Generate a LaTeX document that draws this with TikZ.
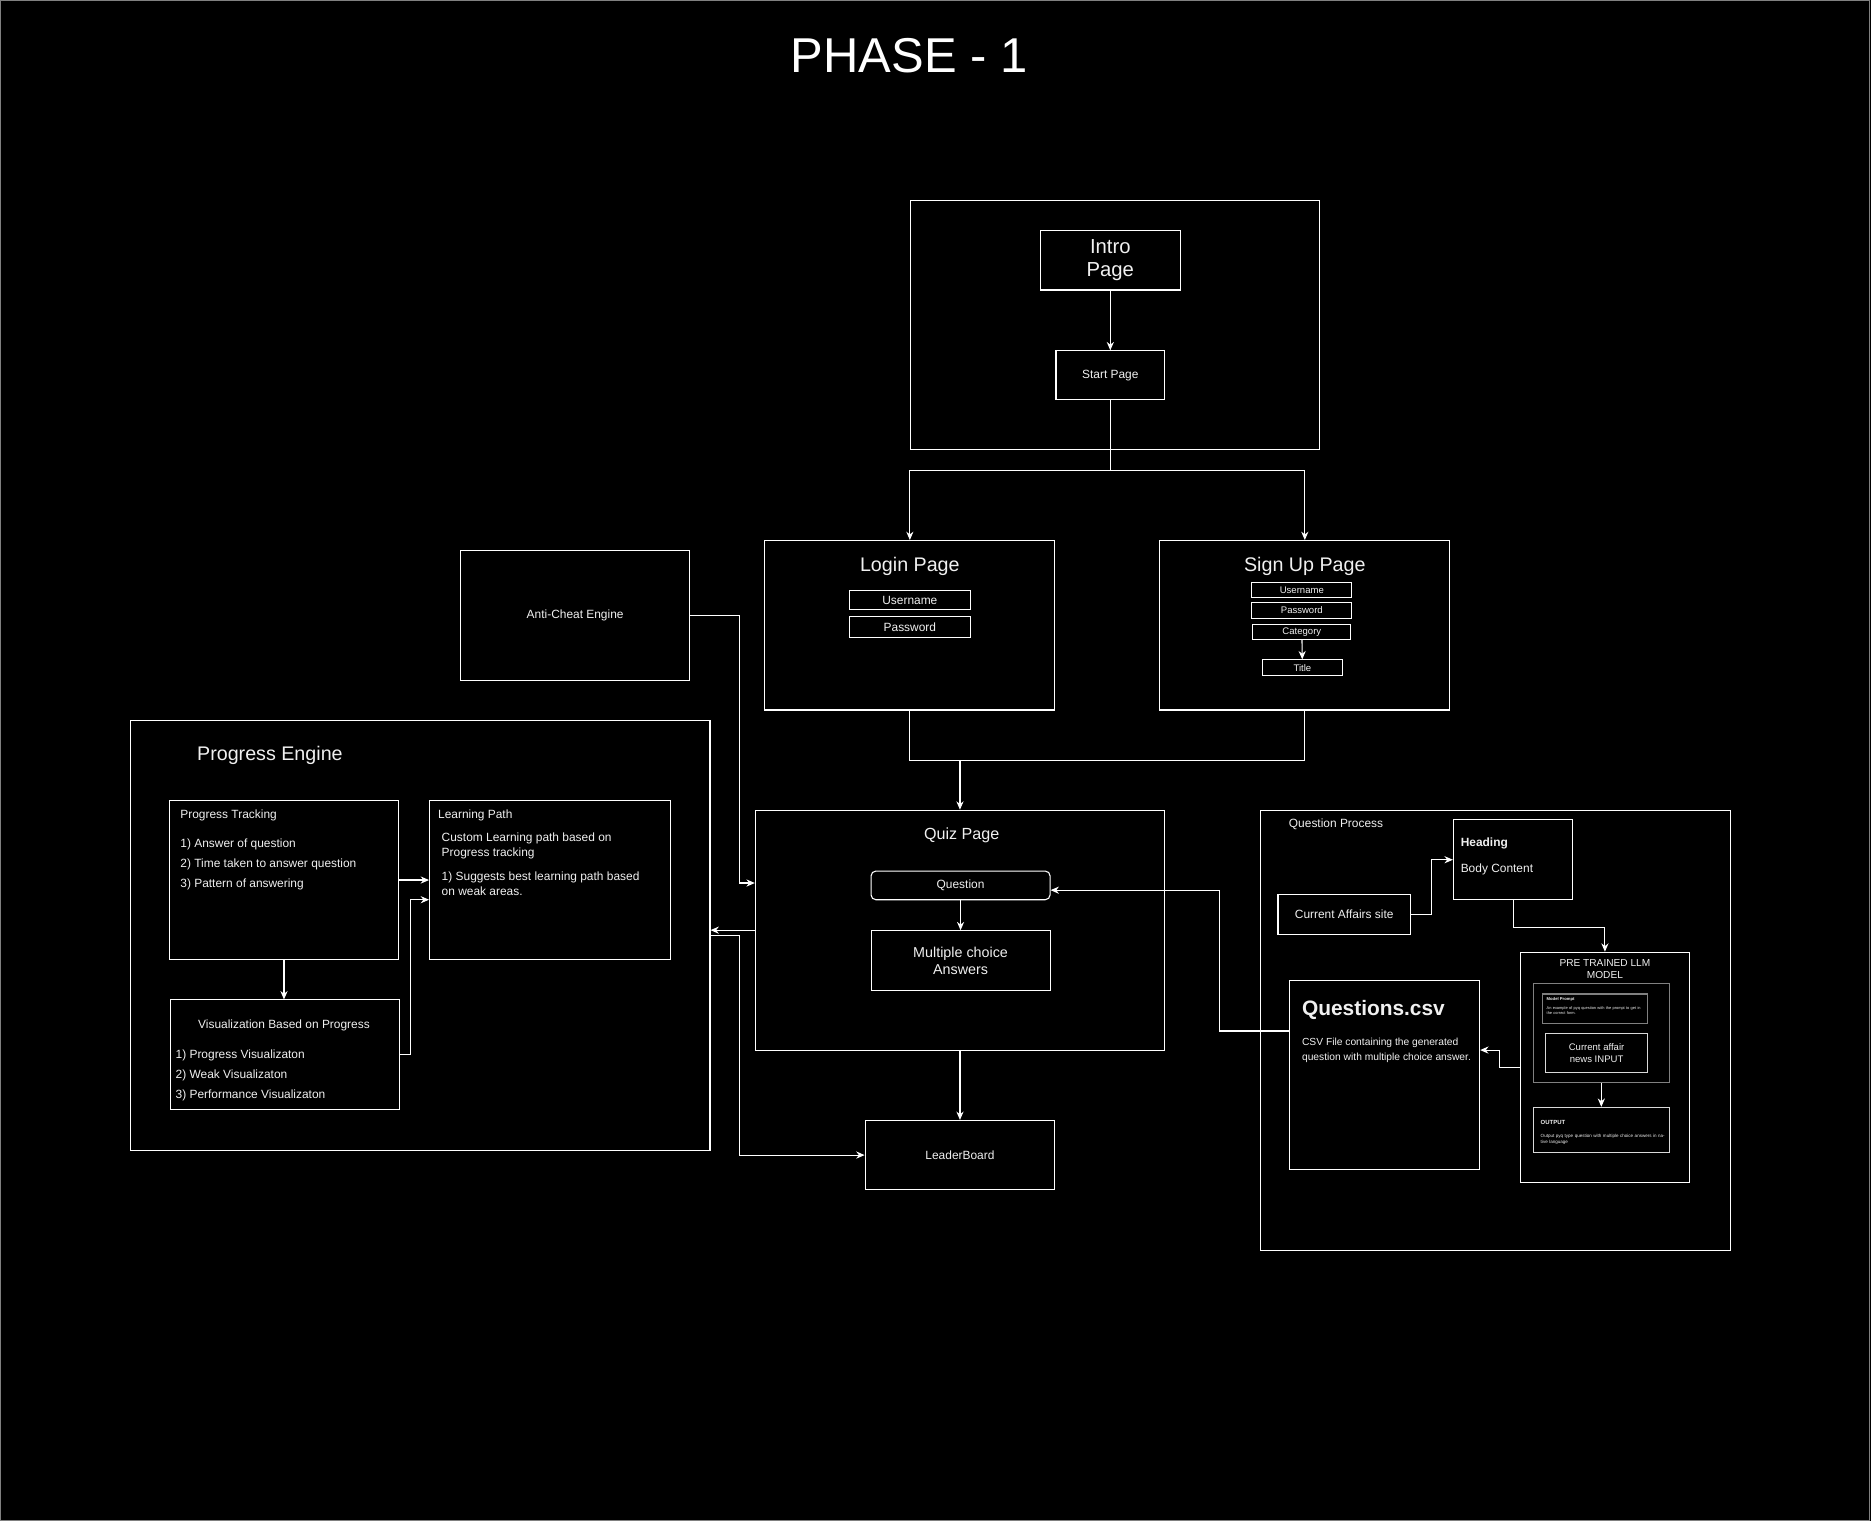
\documentclass[tikz,border=0pt]{standalone}
\usepackage{fontspec}
\setmainfont{Liberation Sans}
\usetikzlibrary{positioning,arrows.meta}

\newcommand{\fsz}[2]{\fontsize{#1}{#2}\selectfont}

\tikzset{
  box/.style={draw=white, line width=0.9pt, rectangle, inner sep=0pt, text=white!94!black, align=center, font=\fsz{10}{12}},
  graybox/.style={box, draw=gray},
  lbl/.style={text=white!94!black, inner sep=0pt, align=left, font=\fsz{10}{12}},
  wire/.style={draw=white, line width=0.9pt},
  conn/.style={wire, -{Stealth[length=7pt,width=6pt]}},
}

\begin{document}
\begin{tikzpicture}[x=1pt, y=-1pt]
        \fill[black] (0,0) rectangle (1568,1275);
        \useasboundingbox (0,0) rectangle (1568,1275);
        \draw[gray, line width=1pt] (0.5,0.5) rectangle (1567,1274);

        % Title
        \node[lbl, text=white, font=\fsz{41}{48}] (title) at (762,47) {PHASE - 1};

        % Nodes
        \node[box, minimum width=343, minimum height=209] (entry) at (934.5,272.5) {};
        \node[box, minimum width=117, minimum height=50, font=\fsz{17}{20}] (intro) at (930.5,218) {Intro\\Page};
        \node[box, minimum width=91, minimum height=41] (start) at (930.5,314.5) {Start Page};

        \node[box, minimum width=243, minimum height=142] (login) at (762.5,524) {};
        \node[lbl, font=\fsz{16.5}{20}] (logintitle) at (762.5,475) {Login Page};
        \node[box, minimum width=101, minimum height=16] (loginuser) at (762.5,503) {Username};
        \node[box, minimum width=101, minimum height=17] (loginpass) at (762.5,525.5) {Password};

        \node[box, minimum width=243, minimum height=142] (signup) at (1093.5,524) {};
        \node[lbl, font=\fsz{16.5}{20}] (signuptitle) at (1093.5,475) {Sign Up Page};
        \node[box, minimum width=84, minimum height=13, font=\fsz{8}{9}] (signupuser) at (1091,494.5) {Username};
        \node[box, minimum width=84, minimum height=13, font=\fsz{8}{9}] (signuppass) at (1091,511.5) {Password};
        \node[box, minimum width=82, minimum height=13, font=\fsz{8}{9}] (category) at (1091,529.5) {Category};
        \node[box, minimum width=67, minimum height=13, font=\fsz{8}{9}] (rank) at (1091.5,559.5) {Title};

        \node[box, minimum width=192, minimum height=109] (anticheat) at (482,515.5) {Anti-Cheat Engine};

        \node[box, minimum width=343, minimum height=201] (quiz) at (804.5,779.5) {};
        \node[lbl, font=\fsz{13.5}{16}] (quiztitle) at (806,700) {Quiz Page};
        \node[box, minimum width=150, minimum height=24, rounded corners=4pt] (question) at (805,742) {Question};
        \node[box, minimum width=150, minimum height=50, font=\fsz{12}{14}] (answers) at (805,805) {Multiple choice\\Answers};
        \node[box, minimum width=159, minimum height=58] (leader) at (804.5,968) {LeaderBoard};
        \coordinate (merge) at (804.5,637);

        \node[box, minimum width=486, minimum height=360] (progress) at (352,784) {};
        \node[lbl, font=\fsz{16.5}{20}, anchor=west] (progresstitle) at (165,633) {Progress Engine};
        \node[box, minimum width=192, minimum height=133] (tracking) at (238,737.5) {};
        \node[lbl, anchor=west] (trackingtitle) at (151,683) {Progress Tracking};
        \node[lbl, anchor=north west, font=\fsz{10}{17}] (trackinglist) at (151,702.5) {1) Answer of question\\2) Time taken to answer question\\3) Pattern of answering};
        \node[box, minimum width=202, minimum height=133] (path) at (461,737.5) {};
        \node[lbl, anchor=west] (pathtitle) at (367,683) {Learning Path};
        \node[lbl, anchor=north west, font=\fsz{10}{12.5}] (pathtext) at (370,697.5) {Custom Learning path based on\\Progress tracking};
        \node[lbl, anchor=north west, font=\fsz{10}{12.5}] (pathlist) at (370,730.5) {1) Suggests best learning path based\\on weak areas.};
        \node[box, minimum width=192, minimum height=92] (visual) at (239,884) {};
        \node[lbl] (visualtitle) at (238,859) {Visualization Based on Progress};
        \node[lbl, anchor=north west, font=\fsz{10}{16.7}] (visuallist) at (147,879.5) {1) Progress Visualizaton\\2) Weak Visualizaton\\3) Performance Visualizaton};

        \node[box, minimum width=394, minimum height=369] (qprocess) at (1253,863.5) {};
        \node[lbl, anchor=west] (qprocesstitle) at (1080,691) {Question Process};
        \node[box, minimum width=100, minimum height=67] (heading) at (1268,720.5) {};
        \node[lbl, anchor=west, font=\bfseries\fsz{10}{12}] (headingtitle) at (1224,707) {Heading};
        \node[lbl, anchor=west] (headingbody) at (1224,729) {Body Content};
        \node[box, minimum width=111, minimum height=33] (affairs) at (1126.5,766.5) {Current Affairs site};

        \node[box, minimum width=142, minimum height=193] (llm) at (1345,894.5) {};
        \node[lbl, align=center, font=\fsz{8.5}{9.5}] (llmtitle) at (1345,812) {PRE TRAINED LLM\\MODEL};
        \node[graybox, minimum width=114, minimum height=83] (llminput) at (1342,865.5) {};
        \node[graybox, minimum width=88, minimum height=25] (prompt) at (1337,845.5) {};
        \node[lbl, anchor=north west, font=\bfseries\fsz{3.5}{4.5}] (prompttitle) at (1296,836) {Model Prompt};
        \node[lbl, anchor=north west, text width=82, font=\fsz{3.3}{4.5}] (prompttext) at (1296,843.5) {An example of pyq question with the prompt to get in the correct form.};
        \node[box, draw=white!85!black, minimum width=86, minimum height=33, font=\fsz{8}{9.5}] (news) at (1338,882.5) {Current affair\\news INPUT};
        \node[box, draw=white!85!black, minimum width=114, minimum height=38] (output) at (1342,947) {};
        \node[lbl, anchor=west, font=\bfseries\fsz{5}{6}] (outputtitle) at (1291,941) {OUTPUT};
        \node[lbl, anchor=north west, text width=105, font=\fsz{3.8}{5}] (outputtext) at (1291,950.5) {Output pyq type question with multiple choice answers in native language};

        \node[box, minimum width=159, minimum height=158] (csv) at (1160.5,901) {};
        \node[lbl, anchor=west, font=\bfseries\fsz{17.5}{20}] (csvtitle) at (1091,846) {Questions.csv};
        \node[lbl, anchor=north west, font=\fsz{8.6}{13}] (csvtext) at (1091,869.5) {CSV File containing the generated\\question with multiple choice answer.};

        % Arrows
        \draw[conn] (intro) -- (start);
        \draw[conn] (start.south) -- ++(0,59) -| (login.north);
        \draw[conn] (start.south) -- ++(0,59) -| (signup.north);
        \draw[conn] (category) -- (rank);
        \draw[wire] (login.south) -- ++(0,42) -| (signup.south);
        \draw[conn] (merge) -- (quiz.north);
        \draw[conn] (anticheat.east) -- (620,515.5) -- (620,740) -- (quiz.west |- 0,740);
        \draw[conn] (question) -- (answers);
        \draw[conn] (quiz) -- (leader);
        \draw[conn] (quiz.west) -- (progress.east |- quiz.west);
        \draw[conn] (progress.east) -- (620,784) |- (leader.west);
        \draw[conn] (tracking.east) -- (path.west);
        \draw[conn] (tracking.south) -- (tracking.south |- visual.north);
        \draw[conn] (visual.east) -- (344,884) |- (path.west |- 0,754);
        \draw[conn] (affairs.east) -- (1200,766.5) |- (heading.west);
        \draw[conn] (heading.south) -- (1268,777) -| (llm.north);
        \draw[conn] (llminput.south) -- (llminput.south |- output.north);
        \draw[conn] (llm.west) -- (1257,894.5) |- (csv.east |- 0,880);
        \draw[conn] (csv.west |- 0,864) -- (1022,864) |- (question.east |- 0,746);
\end{tikzpicture}
\end{document}
